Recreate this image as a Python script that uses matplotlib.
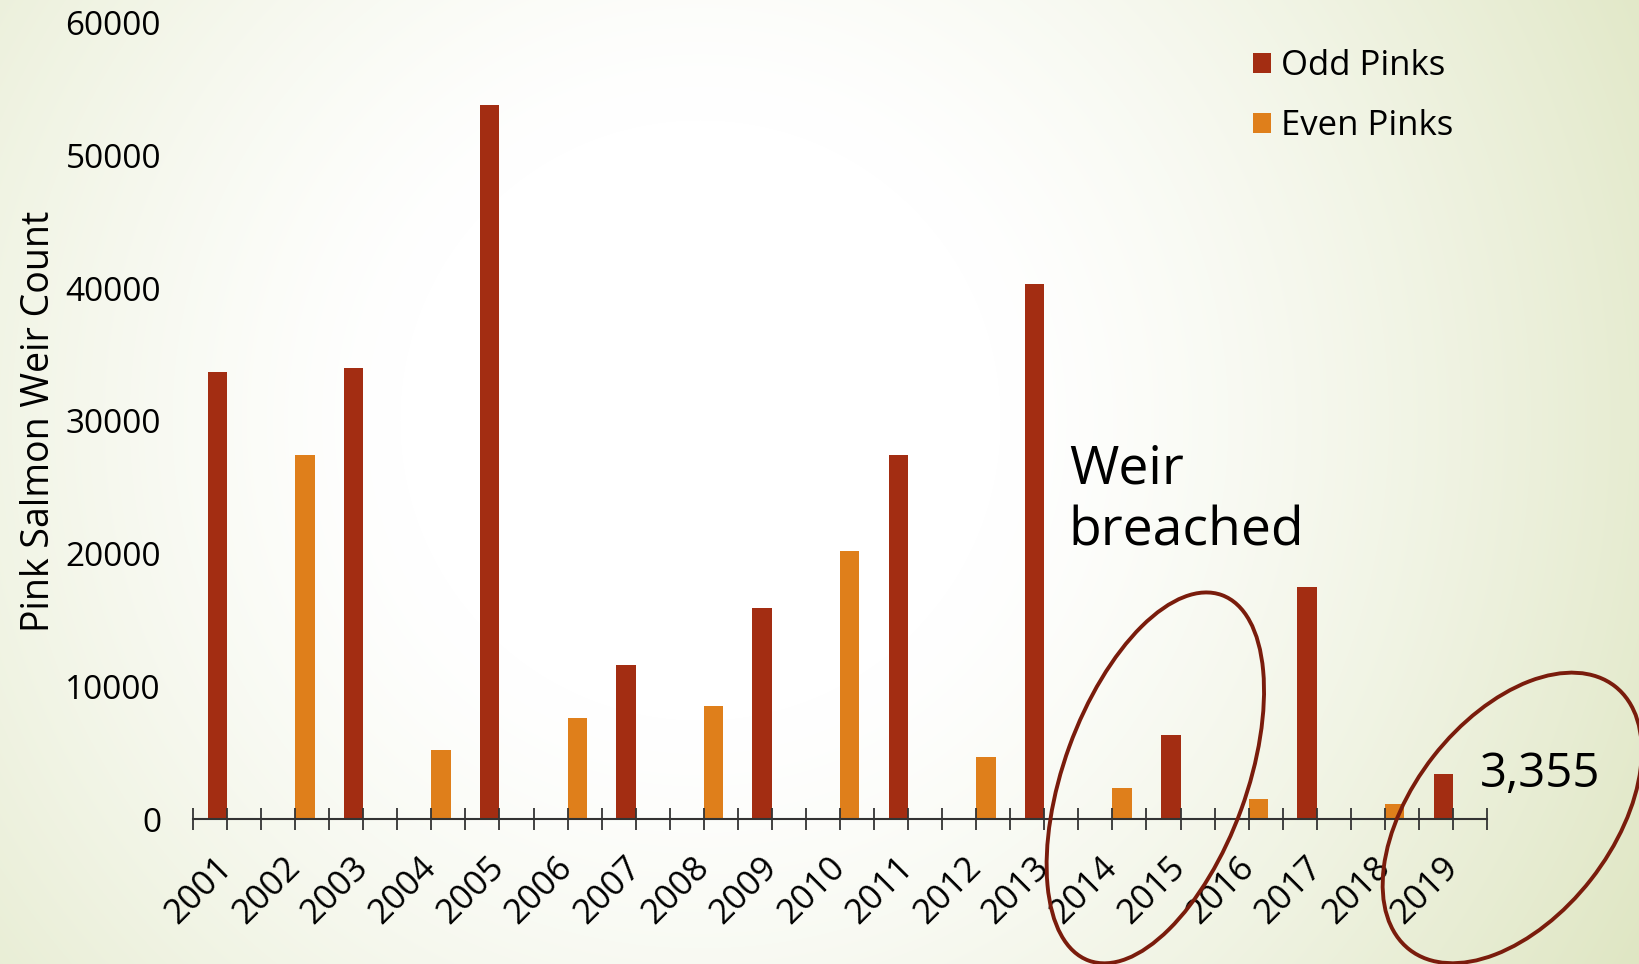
import matplotlib.pyplot as plt
import numpy as np
from matplotlib.patches import Ellipse
from matplotlib.transforms import IdentityTransform

plt.rcParams['font.family'] = ['Open Sans', 'DejaVu Sans']

years = [str(y) for y in range(2001, 2020)]
odd_pinks = [33700, 0, 34000, 0, 53800, 0, 11600, 0, 15900, 0, 27400, 0, 40300, 0, 6300, 0, 17500, 0, 3355]
even_pinks = [0, 27400, 0, 5200, 0, 7600, 0, 8500, 0, 20200, 0, 4650, 0, 2300, 0, 1500, 0, 1100, 0]

odd_color = '#A32D12'
even_color = '#DF7F1B'
ring_color = '#7A1C0C'

fig = plt.figure(figsize=(16.4, 9.64), dpi=100)

# radial background, white in the middle going to pale green at the edges
bg = fig.add_axes([0, 0, 1, 1], zorder=0)
W, H = 1640, 964
xx, yy = np.meshgrid(np.arange(W), np.arange(H))
d = np.sqrt((xx - 700.0) ** 2 + (yy - 420.0) ** 2)
t = np.clip((d - 300.0) / (1086.0 - 300.0), 0, 1) ** 1.3
white = np.array([1.0, 1.0, 1.0])
edge = np.array([0xDF, 0xE6, 0xC3]) / 255.0
img = white[None, None, :] * (1 - t[..., None]) + edge[None, None, :] * t[..., None]
bg.imshow(img, aspect='auto', extent=[0, 1, 0, 1], origin='upper')
bg.axis('off')

ax = fig.add_axes([193 / 1640, 1 - 819 / 964, (1487 - 193) / 1640, (819 - 23) / 964], zorder=1)
ax.set_facecolor('none')

x = np.arange(len(years))
w = 0.285
ax.bar(x - w / 2, odd_pinks, w, color=odd_color, label='Odd Pinks')
ax.bar(x + w / 2, even_pinks, w, color=even_color, label='Even Pinks')

ax.set_xlim(-0.5, len(years) - 0.5)
ax.set_ylim(0, 60000)
ax.set_yticks([0, 10000, 20000, 30000, 40000, 50000, 60000])
ax.set_yticklabels(['0', '10000', '20000', '30000', '40000', '50000', '60000'])
ax.tick_params(axis='y', length=0, pad=23, labelsize=24, labelcolor='black')

ax.set_xticks(x)
ax.set_xticklabels(years, rotation=45, ha='right', va='center', rotation_mode='anchor')
ax.set_xticks(np.arange(-0.5, len(years), 1.0), minor=True)
ax.tick_params(axis='x', which='both', direction='inout', length=16, width=1.3, color='#333333')
ax.tick_params(axis='x', which='major', pad=23, labelsize=25)

for s in ['top', 'right', 'left']:
    ax.spines[s].set_visible(False)
ax.spines['bottom'].set_color('#333333')
ax.spines['bottom'].set_linewidth(1.5)

ax.set_ylabel('Pink Salmon Weir Count', fontsize=27, va='center')
ax.yaxis.set_label_coords(-0.119, 0.5)

leg = ax.legend(loc='center left', bbox_to_anchor=(1253 / 1640, 1 - 96 / 964),
                bbox_transform=fig.transFigure, frameon=False, fontsize=25,
                handlelength=0.52, handleheight=0.52, handletextpad=0.3,
                labelspacing=0.75, borderpad=0, borderaxespad=0)

ax.text(12.36, 24000, 'Weir\nbreached', fontsize=38.5, ha='left', va='center', linespacing=1.2)
ax.text(18.4, 3400, '3,355', fontsize=34, ha='left', va='center')

# circles around the low years
fig.canvas.draw()
c1 = ax.transData.transform((13.63, 3100))
c2 = ax.transData.transform((18.87, 80))
fig.patches.append(Ellipse(c1, 389, 183, angle=70, fill=False, edgecolor=ring_color,
                           linewidth=2.8, transform=IdentityTransform(), figure=fig))
fig.patches.append(Ellipse(c2, 334, 200, angle=52, fill=False, edgecolor=ring_color,
                           linewidth=2.8, transform=IdentityTransform(), figure=fig))

fig.savefig('out.png', dpi=100)
